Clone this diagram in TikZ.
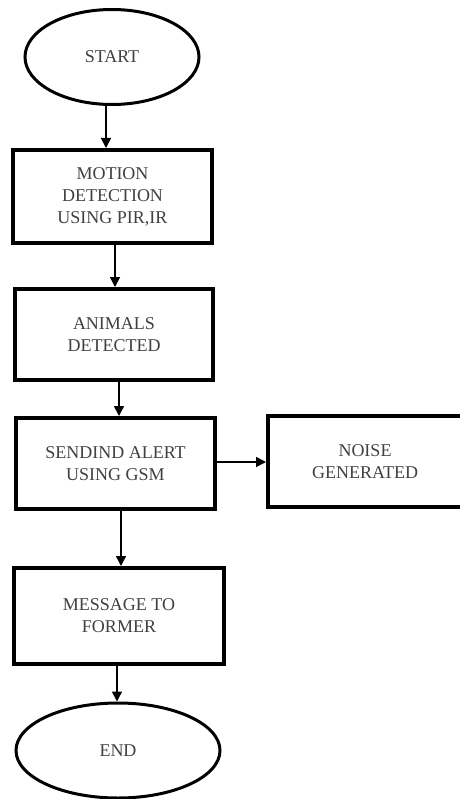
\documentclass[tikz,border=0pt]{standalone}
\usepackage{fontspec}
\setmainfont{Liberation Serif}
\usetikzlibrary{arrows.meta,shapes.geometric}
\begin{document}
\begin{tikzpicture}[x=1pt,y=-1pt,
  txt/.style={font=\fontsize{18}{22}\selectfont, text=black!75, align=center},
  term/.style={txt, ellipse, draw, line width=3pt, inner sep=0pt},
  procbox/.style={txt, rectangle, draw, line width=4pt, inner sep=0pt},
  arr/.style={line width=1.5pt, -{Triangle[length=10pt,width=10pt]}}]
\useasboundingbox (0,0) rectangle (459,799);
\node[term, minimum width=174pt, minimum height=95pt] (start) at (112,57) {START};
\node[procbox, minimum width=199pt, minimum height=93pt] (m1) at (112.5,196.5) {MOTION\\DETECTION\\USING PIR,IR};
\node[procbox, minimum width=198pt, minimum height=91pt] (m2) at (114,334.5) {ANIMALS\\DETECTED};
\node[procbox, minimum width=199pt, minimum height=91pt] (m3) at (115.5,463.5) {SENDIND ALERT\\USING GSM};
\node[procbox, minimum width=204pt, minimum height=91pt] (noise) at (370,461.5) {\hspace*{-10pt}NOISE\\\hspace*{-10pt}GENERATED};
\node[procbox, minimum width=210pt, minimum height=96pt] (m4) at (119,616) {MESSAGE TO\\FORMER};
\node[term, minimum width=204pt, minimum height=95pt] (end) at (118,750.5) {END};
\draw[arr] ([xshift=-6pt]start.south) -- ([xshift=-6pt]start.south |- m1.north);
\draw[arr] ([xshift=2.5pt]m1.south) -- ([xshift=2.5pt]m1.south |- m2.north);
\draw[arr] ([xshift=5pt]m2.south) -- ([xshift=5pt]m2.south |- m3.north);
\draw[arr] ([xshift=5.5pt]m3.south) -- ([xshift=5.5pt]m3.south |- m4.north);
\draw[arr] ([xshift=-2pt]m4.south) -- ([xshift=-2pt]m4.south |- end.north);
\draw[arr] ([yshift=1.5pt]m3.east) -- ([yshift=1.5pt]m3.east -| noise.west);
\end{tikzpicture}
\end{document}
